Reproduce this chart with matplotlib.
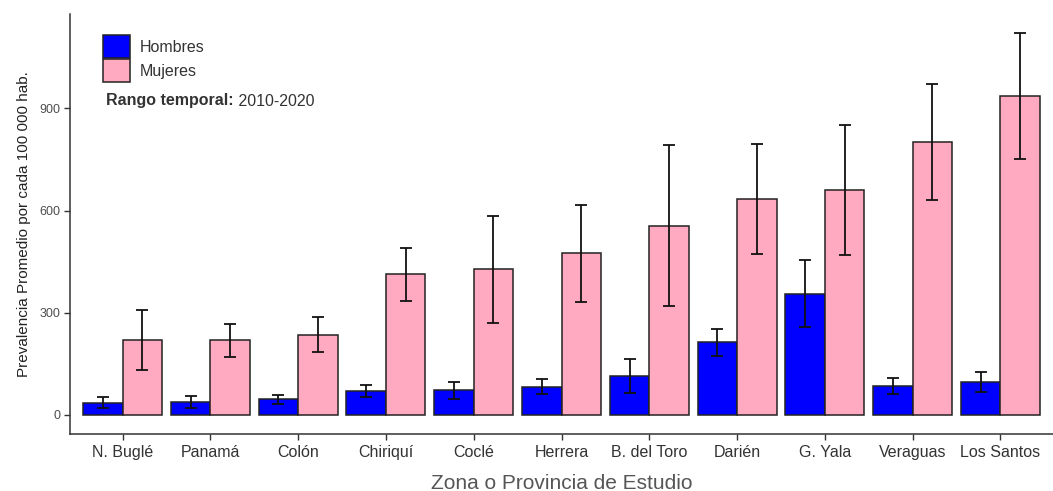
import matplotlib
matplotlib.use("Agg")
import matplotlib.pyplot as plt
import numpy as np
from matplotlib.patches import Patch

plt.rcParams['font.family'] = ['Liberation Sans', 'DejaVu Sans']

categories = ["N. Buglé", "Panamá", "Colón", "Chiriquí", "Coclé", "Herrera",
              "B. del Toro", "Darién", "G. Yala", "Veraguas", "Los Santos"]
hombres = [36, 38, 46, 70, 72, 83, 114, 213, 356, 85, 98]
hombres_lo = [20, 21, 32, 54, 48, 61, 65, 174, 258, 61, 68]
hombres_hi = [53, 56, 58, 88, 97, 105, 164, 253, 454, 107, 126]
mujeres = [220, 219, 235, 413, 427, 475, 556, 633, 660, 801, 936]
mujeres_lo = [132, 170, 184, 335, 270, 332, 320, 471, 469, 630, 750]
mujeres_hi = [308, 267, 287, 490, 584, 617, 791, 795, 851, 971, 1121]
yticks = [0, 300, 600, 900]

blue = "#0000FF"
pink = "#FFAAC0"

W, H = 1053, 491
fig = plt.figure(figsize=(W / 100, H / 100), dpi=100)
ax = fig.add_axes([70 / W, 57 / H, 983 / W, 420 / H])

x = np.arange(1, len(categories) + 1)
bw = 0.45
xh = x - bw / 2
xm = x + bw / 2
ax.bar(xh, hombres, width=bw, color=blue, edgecolor="#222222", linewidth=1.1, zorder=2)
ax.bar(xm, mujeres, width=bw, color=pink, edgecolor="#222222", linewidth=1.1, zorder=2)

h = np.array(hombres); m = np.array(mujeres)
ax.errorbar(xh, h, yerr=[h - np.array(hombres_lo), np.array(hombres_hi) - h],
            fmt='none', ecolor='#111111', elinewidth=1.3, capsize=4.5, capthick=1.3, zorder=3)
ax.errorbar(xm, m, yerr=[m - np.array(mujeres_lo), np.array(mujeres_hi) - m],
            fmt='none', ecolor='#111111', elinewidth=1.3, capsize=4.5, capthick=1.3, zorder=3)

ymax = max(mujeres_hi)
ax.set_ylim(-0.05 * ymax, ymax * 1.05)
ax.set_xlim(0.4, len(categories) + 0.6)
ax.set_xticks(x)
ax.set_xticklabels(categories, fontsize=11.5, color="#333333")
ax.set_yticks(yticks)
ax.set_yticklabels([str(v) for v in yticks], fontsize=9, color="#4D4D4D")
ax.tick_params(axis='both', length=4, width=1, color="#333333")
ax.tick_params(axis='x', pad=4)
ax.tick_params(axis='y', pad=3)

for s in ['top', 'right']:
    ax.spines[s].set_visible(False)
for s in ['left', 'bottom']:
    ax.spines[s].set_color("#333333")
    ax.spines[s].set_linewidth(1.1)

ax.set_xlabel("Zona o Provincia de Estudio", fontsize=15, color="#555555", labelpad=10)
ax.set_ylabel("Prevalencia Promedio por cada 100 000 hab.", fontsize=11, color="#222222", labelpad=6)

handles = [Patch(facecolor=blue, edgecolor="#222222", linewidth=1.1, label="Hombres"),
           Patch(facecolor=pink, edgecolor="#222222", linewidth=1.1, label="Mujeres")]
ax.legend(handles=handles, loc='upper left', bbox_to_anchor=(103 / W, 1 - 35 / H),
          bbox_transform=fig.transFigure, frameon=False, fontsize=11.5,
          handlelength=1.7, handleheight=1.85, handletextpad=0.6,
          labelspacing=0.05, borderpad=0, borderaxespad=0, labelcolor="#333333")

t1 = fig.text(106 / W, 1 - 101 / H, "Rango temporal:", fontsize=11.5, fontweight='bold',
              color="#333333", va='center', ha='left')
ax.annotate(" 2010-2020", xy=(1, 0), xycoords=t1, va='bottom', ha='left',
            fontsize=11.5, color="#333333")

fig.savefig("out.png", dpi=100)
